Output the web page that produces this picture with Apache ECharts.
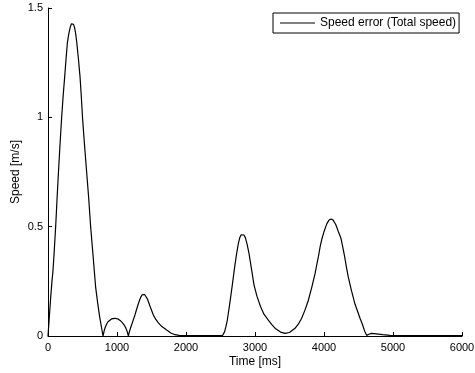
<!DOCTYPE html>
<html>
<head>
<meta charset="utf-8">
<script src="https://cdn.jsdelivr.net/npm/echarts@6/dist/echarts.min.js"></script>
<style>html,body{margin:0;padding:0;background:#fff}#c{width:475px;height:373px}</style>
</head>
<body>
<div id="c"></div>
<script>
const seriesName = 'Speed error (Total speed)';
const xTicks = [0, 1000, 2000, 3000, 4000, 5000, 6000];
const yTicks = [0, 0.5, 1, 1.5];
const timeMs = [0,20,40,60,70,85,111,130,150,175,198,220,242,260,280,295,310,325,340,348,356,370,385,400,416,440,464,482,500,530,560,590,618,655,690,720,750,775,797,
  815,830,850,870,895,920,945,970,995,1020,1050,1080,1105,1130,1150,1165,
  1180,1200,1230,1260,1290,1320,1345,1365,1381,1400,1420,1440,1480,1527,1560,1600,1650,1720,1780,1840,1900,1950,2200,2530,
  2545,2560,2580,2599,2635,2671,2705,2734,2760,2780,2800,2821,2840,2860,2885,2913,2950,2986,3030,3080,3130,3193,3250,3300,3370,3435,3500,3580,3630,3676,3720,3770,3820,3870,3920,3945,3966,4000,4040,4070,4101,4130,4170,4210,4246,4270,4300,4325,4353,4400,4450,4490,4522,4560,4590,4618,
  4650,4690,4760,4850,4957,5200,5600,6000];
const speedErr = [0,0.09,0.18,0.26,0.29,0.36,0.5,0.62,0.74,0.88,1.0,1.10,1.186,1.26,1.338,1.37,1.395,1.415,1.428,1.433,1.433,1.425,1.41,1.385,1.345,1.27,1.186,1.10,1.0,0.87,0.75,0.63,0.5,0.36,0.225,0.15,0.085,0.04,0,
  0.025,0.04,0.055,0.065,0.073,0.078,0.08,0.081,0.08,0.077,0.07,0.06,0.05,0.035,0.018,0,
  0.02,0.04,0.068,0.096,0.128,0.158,0.178,0.188,0.192,0.19,0.182,0.17,0.135,0.096,0.077,0.06,0.043,0.027,0.014,0.006,0.003,0.002,0.002,0.002,
  0.008,0.02,0.045,0.073,0.15,0.233,0.315,0.378,0.425,0.45,0.463,0.466,0.462,0.45,0.42,0.378,0.305,0.233,0.18,0.135,0.10,0.073,0.05,0.033,0.018,0.012,0.016,0.035,0.055,0.081,0.115,0.16,0.219,0.285,0.365,0.41,0.44,0.477,0.513,0.529,0.535,0.531,0.51,0.476,0.447,0.41,0.362,0.315,0.268,0.205,0.145,0.11,0.081,0.05,0.022,0.003,
  0.008,0.012,0.010,0.006,0.003,0.002,0.002,0.002];

const chart = echarts.init(document.getElementById('c'), null, {renderer: 'canvas'});
const font = 'Liberation Sans, Arial, Helvetica, sans-serif';
chart.setOption({
  animation: false,
  backgroundColor: '#fff',
  textStyle: {fontFamily: font},
  grid: {left: 48, right: 13, top: 8, bottom: 37, containLabel: false, outerBoundsMode: 'none'},
  legend: {
    show: true,
    data: [{name: seriesName, icon: 'rect'}],
    left: 273, top: 13,
    orient: 'vertical',
    borderColor: '#000', borderWidth: 1,
    padding: [4, 3, 4, 7],
    itemWidth: 35, itemHeight: 1, itemGap: 4,
    textStyle: {color: '#000', fontSize: 12, fontFamily: font, padding: [0, 0, 0, 0]},
    backgroundColor: '#fff'
  },
  xAxis: {
    type: 'value', min: xTicks[0], max: xTicks[xTicks.length-1], interval: 1000,
    name: 'Time [ms]', nameLocation: 'middle', nameGap: 20, nameMoveOverlap: false,
    nameTextStyle: {color: '#000', fontSize: 12, fontFamily: font},
    axisLine: {show: true, lineStyle: {color: '#000', width: 1}},
    axisTick: {show: true, inside: true, length: 4, lineStyle: {color: '#000'}},
    axisLabel: {color: '#000', fontSize: 11, margin: 6, fontFamily: font, formatter: v => String(v)},
    splitLine: {show: false}
  },
  yAxis: {
    type: 'value', min: yTicks[0], max: yTicks[yTicks.length-1], interval: 0.5,
    name: 'Speed [m/s]', nameLocation: 'middle', nameGap: 26, nameMoveOverlap: false,
    nameTextStyle: {color: '#000', fontSize: 12, fontFamily: font},
    axisLine: {show: true, lineStyle: {color: '#000', width: 1}},
    axisTick: {show: true, inside: true, length: 4, lineStyle: {color: '#000'}},
    axisLabel: {color: '#000', fontSize: 11, margin: 5, fontFamily: font, formatter: v => String(v)},
    splitLine: {show: false}
  },
  series: [{
    name: seriesName,
    type: 'line',
    data: timeMs.map((t, i) => [t, speedErr[i]]),
    symbol: 'none',
    smooth: false,
    lineStyle: {color: '#000', width: 1.2},
    itemStyle: {color: '#000'}
  }]
});
</script>
</body>
</html>
